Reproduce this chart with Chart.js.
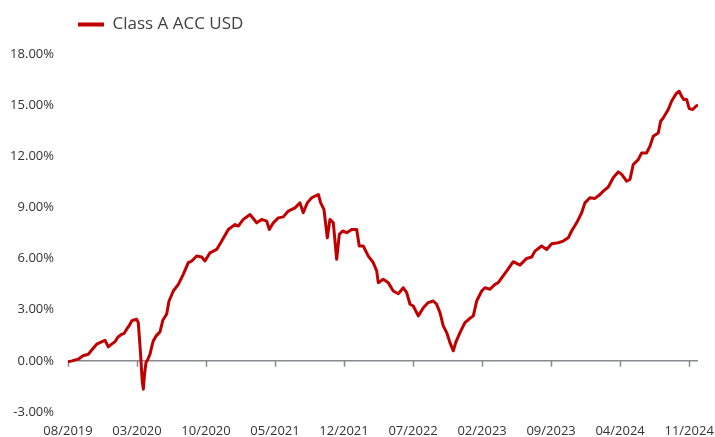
<!DOCTYPE html>
<html>
<head>
<meta charset="utf-8">
<script src="https://cdn.jsdelivr.net/npm/chart.js@4.4.1/dist/chart.umd.min.js"></script>
<style>
    html, body { margin: 0; padding: 0; background: #fff; }
    #wrap { width: 715px; height: 437px; }
</style>
</head>
<body>
<div id="wrap"><canvas id="chartLine"></canvas></div>
<script>
const seriesName = 'Class A ACC USD';

// months since 08/2019
const monthOffsets = [
    0, 0.41, 1.04, 1.52, 2.06, 2.43, 2.91, 3.35, 3.75, 4.09,
    4.36, 4.77, 5.07, 5.45, 5.68, 5.95, 6.19, 6.46, 6.69, 6.97,
    7.13, 7.35, 7.53, 7.64, 7.76, 7.91, 8.11, 8.32, 8.52, 8.65,
    8.92, 9.33, 9.63, 10.01, 10.24, 10.68, 11.19, 11.69, 12.2, 12.55,
    13.05, 13.56, 13.89, 14.4, 15.08, 15.59, 16.26, 16.94, 17.27, 17.78,
    18.46, 19.14, 19.65, 20.15, 20.42, 20.82, 21.33, 21.84, 22.34, 23.02,
    23.53, 23.86, 24.27, 24.72, 25.39, 25.63, 25.96, 26.3, 26.57, 26.91,
    27.25, 27.52, 27.86, 28.27, 28.77, 29.28, 29.54, 29.95, 30.46, 30.96,
    31.31, 31.47, 31.98, 32.48, 32.99, 33.5, 34.01, 34.35, 34.69, 35.02,
    35.53, 36.04, 36.54, 37.05, 37.39, 37.73, 38.06, 38.41, 38.74, 39.08,
    39.32, 39.76, 40.26, 40.77, 41.11, 41.45, 41.96, 42.29, 42.8, 43.31,
    43.64, 44.15, 44.49, 45.16, 45.84, 46.52, 47.03, 47.36, 48.04, 48.55,
    49.06, 49.73, 50.23, 50.74, 51.08, 51.59, 52.1, 52.43, 52.94, 53.45,
    53.96, 54.29, 54.8, 55.3, 55.81, 56.16, 56.66, 57.0, 57.33, 57.84,
    58.18, 58.69, 59.03, 59.36, 59.87, 60.11, 60.37, 60.88, 61.22, 61.66,
    61.99, 62.24, 62.47, 62.75, 63.01, 63.36, 63.69, 63.92
];

// cumulative return, %
const returns = [
    -0.05, 0.0, 0.10, 0.30, 0.39, 0.65, 0.98, 1.10, 1.21, 0.82,
    0.95, 1.13, 1.40, 1.56, 1.60, 1.86, 2.05, 2.34, 2.40, 2.44,
    2.24, 0.50, -1.20, -1.66, -0.80, -0.10, 0.10, 0.40, 0.90, 1.17,
    1.45, 1.70, 2.40, 2.75, 3.50, 4.10, 4.49, 5.08, 5.76, 5.86,
    6.15, 6.09, 5.86, 6.34, 6.54, 7.03, 7.71, 8.00, 7.91, 8.30,
    8.59, 8.10, 8.30, 8.20, 7.71, 8.10, 8.39, 8.45, 8.79, 8.98,
    9.27, 8.69, 9.27, 9.57, 9.76, 9.27, 8.89, 7.22, 8.30, 8.10,
    5.96, 7.42, 7.62, 7.52, 7.71, 7.71, 6.74, 6.74, 6.15, 5.76,
    5.27, 4.59, 4.79, 4.59, 4.10, 3.94, 4.29, 4.00, 3.32, 3.22,
    2.64, 3.12, 3.42, 3.51, 3.32, 2.83, 2.05, 1.66, 1.07, 0.59,
    1.07, 1.66, 2.24, 2.50, 2.64, 3.51, 4.10, 4.29, 4.20, 4.49,
    4.59, 5.00, 5.27, 5.82, 5.62, 6.01, 6.09, 6.44, 6.74, 6.54,
    6.87, 6.93, 7.03, 7.22, 7.62, 8.10, 8.69, 9.27, 9.57, 9.53,
    9.76, 9.96, 10.20, 10.74, 11.09, 10.94, 10.54, 10.64, 11.52, 11.81,
    12.20, 12.20, 12.60, 13.18, 13.37, 14.06, 14.25, 14.75, 15.23, 15.66,
    15.82, 15.52, 15.33, 15.33, 14.80, 14.75, 14.94, 15.00
];

const xTickLabels = ['08/2019', '03/2020', '10/2020', '05/2021', '12/2021',
    '07/2022', '02/2023', '09/2023', '04/2024', '11/2024'];
const yTicks = [-3, 0, 3, 6, 9, 12, 15, 18];

// 'MM/YYYY' -> months since 08/2019
function labelToOffset(label) {
    const [m, y] = label.split('/').map(Number);
    return (y - 2019) * 12 + (m - 8);
}

const fontFamily = "'Open Sans', 'Noto Sans', sans-serif";

/* eixo no zero com marcas */
const zeroAxis = {
    id: 'zeroAxis',
    afterLayout(chart) {
        // legend starts at the plot's left edge
        chart.legend.left = chart.chartArea.left - 5;
    },
    beforeDatasetsDraw(chart) {
        const { ctx, chartArea, scales: { x, y } } = chart;
        const y0 = y.getPixelForValue(0);
        ctx.save();
        ctx.strokeStyle = '#878a8e';
        ctx.lineWidth = 1.5;
        ctx.beginPath();
        ctx.moveTo(chartArea.left, y0);
        ctx.lineTo(chartArea.right, y0);
        x.ticks.forEach(t => {
            const px = Math.round(x.getPixelForValue(t.value)) + 0.5;
            ctx.moveTo(px, y0);
            ctx.lineTo(px, y0 + 6);
        });
        ctx.stroke();
        ctx.restore();
    }
};

const config = {
    type: 'line',
    data: {
        datasets: [{
            label: seriesName,
            data: monthOffsets.map((m, i) => ({ x: m, y: returns[i] })),
            borderColor: '#c00000',
            backgroundColor: '#c00000',
            borderWidth: 3,
            pointRadius: 0,
            tension: 0,
            fill: false,
            borderJoinStyle: 'round'
        }]
    },
    options: {
        responsive: true,
        maintainAspectRatio: false,
        animation: false,
        layout: { padding: { left: 9, right: 17, top: 1, bottom: 0 } },
        scales: {
            x: {
                type: 'linear',
                min: 0,
                max: 63.9,
                grid: { display: false, drawTicks: false },
                border: { display: false },
                afterBuildTicks: scale => {
                    scale.ticks = xTickLabels.map(l => ({ value: labelToOffset(l) }));
                },
                afterFit: scale => {
                    scale.height = 25;
                    scale.paddingLeft = 0;
                    scale.paddingRight = 0;
                },
                ticks: {
                    padding: 11,
                    maxRotation: 0,
                    autoSkip: false,
                    color: '#333',
                    font: { size: 13, family: fontFamily },
                    callback: (v, i) => xTickLabels[i]
                }
            },
            y: {
                min: -3,
                max: 18.65,
                grid: { display: false, drawTicks: false },
                border: { display: false },
                afterBuildTicks: scale => {
                    scale.ticks = yTicks.map(v => ({ value: v }));
                },
                afterFit: scale => {
                    scale.width = 59;
                },
                ticks: {
                    padding: 14,
                    color: '#333',
                    font: { size: 13, family: fontFamily },
                    callback: v => v.toFixed(2) + '%'
                }
            }
        },
        plugins: {
            legend: {
                display: true,
                position: 'top',
                align: 'start',
                labels: {
                    boxWidth: 26,
                    boxHeight: 4,
                    padding: 15,
                    color: '#404040',
                    font: { size: 17, family: fontFamily },
                    generateLabels: chart =>
                        Chart.defaults.plugins.legend.labels.generateLabels(chart)
                            .map(l => ({ ...l, lineWidth: 0 }))
                }
            },
            tooltip: { enabled: false }
        }
    },
    plugins: [zeroAxis]
};

const myChart = new Chart(document.getElementById('chartLine'), config);
</script>
</body>
</html>
